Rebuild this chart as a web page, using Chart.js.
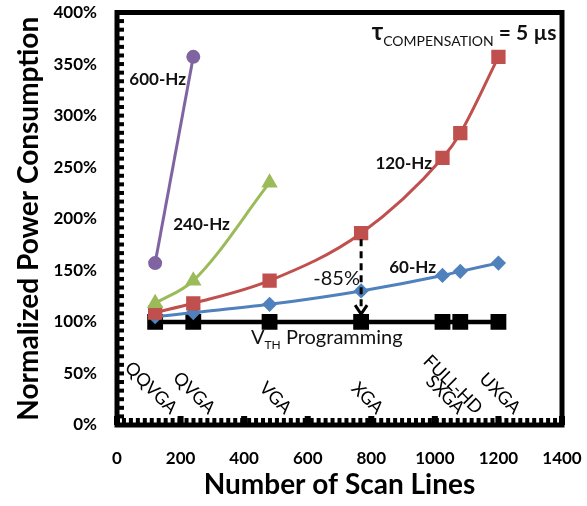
<!DOCTYPE html>
<html>
<head>
<meta charset="utf-8">
<script src="https://cdn.jsdelivr.net/npm/chart.js@4.4.1/dist/chart.umd.min.js"></script>
<style>
  html, body { margin: 0; padding: 0; background: #fff; }
  #wrap { width: 587px; height: 506px; }
</style>
</head>
<body>
<div id="wrap"><canvas id="powerChart" width="587" height="506"></canvas></div>
<script>
// Data
const scanLines = [120, 240, 480, 768, 1024, 1080, 1200];
const formats = ['QQVGA', 'QVGA', 'VGA', 'XGA', 'SXGA', 'FULL-HD', 'UXGA'];
const vthProgramming = [100, 100, 100, 100, 100, 100, 100];
const power60Hz = [105, 109, 117, 130, 145, 149, 157];
const power120Hz = [109, 118, 140, 186, 259, 283, 357];
const lines240Hz = [120, 240, 480];
const power240Hz = [118, 140, 235];
const lines600Hz = [120, 240];
const power600Hz = [157, 357];

const FONT = 'Lato, "Open Sans", sans-serif';

// text notes placed in data coordinates
const notes = [
  { text: '600-Hz', x: 128, y: 335 },
  { text: '240-Hz', x: 266, y: 194 },
  { text: '120-Hz', x: 902, y: 254 },
  { text: '60-Hz', x: 930, y: 153 },
];

function toPoints(xs, ys) {
  return xs.map((x, i) => ({ x: x, y: ys[i] }));
}

function drawParts(ctx, parts, cx, baseY) {
  let total = 0;
  parts.forEach(p => {
    ctx.font = p.font;
    p.w = ctx.measureText(p.text).width;
    total += p.w;
  });
  let x = cx - total / 2;
  ctx.textAlign = 'left';
  ctx.textBaseline = 'alphabetic';
  parts.forEach(p => {
    ctx.font = p.font;
    ctx.fillText(p.text, x, baseY + (p.dy || 0));
    x += p.w;
  });
}

// Frame, inner ticks, arrow and notes
const framePlugin = {
  id: 'frame',
  afterDraw(chart) {
    const ctx = chart.ctx;
    const a = chart.chartArea;
    const xs = chart.scales.x;
    const ys = chart.scales.y;
    ctx.save();
    ctx.fillStyle = '#000';
    ctx.strokeStyle = '#000';

    // minor ticks pointing inward
    for (let v = 0; v <= 400; v += 400 / 48) {
      const py = ys.getPixelForValue(v);
      ctx.fillRect(a.left, py - 2, 7, 4);
    }
    for (let v = 0; v <= 1400; v += 1400 / 64) {
      const px = xs.getPixelForValue(v);
      ctx.fillRect(px - 2, a.bottom - 7, 4, 7);
    }
    for (let v = 0; v <= 1400; v += 200) {
      const px = xs.getPixelForValue(v);
      ctx.fillRect(px - 3, a.bottom - 9, 6, 9);
    }

    // frame
    ctx.lineWidth = 5;
    ctx.strokeRect(a.left, a.top, a.right - a.left, a.bottom - a.top);

    // dashed arrow from 120-Hz XGA point down to V_TH line
    const ax = xs.getPixelForValue(768);
    const ay1 = ys.getPixelForValue(186) + 6;
    const ay2 = ys.getPixelForValue(107.5);
    ctx.lineWidth = 3;
    ctx.setLineDash([7, 5]);
    ctx.beginPath();
    ctx.moveTo(ax, ay1);
    ctx.lineTo(ax, ay2);
    ctx.stroke();
    ctx.setLineDash([]);
    ctx.beginPath();
    ctx.moveTo(ax - 6, ay2 - 9);
    ctx.lineTo(ax, ay2);
    ctx.lineTo(ax + 6, ay2 - 9);
    ctx.stroke();

    // series notes
    ctx.fillStyle = '#111';
    ctx.font = 'bold 17px ' + FONT;
    ctx.textAlign = 'center';
    ctx.textBaseline = 'middle';
    notes.forEach(n => {
      ctx.fillText(n.text, xs.getPixelForValue(n.x), ys.getPixelForValue(n.y));
    });

    ctx.font = '20px ' + FONT;
    ctx.fillText('-85%', xs.getPixelForValue(691), ys.getPixelForValue(142.5));

    // V_TH Programming
    drawParts(ctx, [
      { text: 'V', font: '20px ' + FONT },
      { text: 'TH', font: '12px ' + FONT, dy: 5 },
      { text: ' Programming', font: '20px ' + FONT }
    ], xs.getPixelForValue(660), ys.getPixelForValue(100) + 22);

    // tau compensation
    drawParts(ctx, [
      { text: 'τ', font: 'bold 24px ' + FONT },
      { text: 'COMPENSATION', font: '14px ' + FONT, dy: 6 },
      { text: ' = 5 µs', font: 'bold 21px ' + FONT }
    ], xs.getPixelForValue(1092), a.top + 27);

    // rotated format labels
    ctx.font = '18px ' + FONT;
    ctx.fillStyle = '#000';
    ctx.textAlign = 'right';
    ctx.textBaseline = 'middle';
    formats.forEach((f, i) => {
      const px = xs.getPixelForValue(scanLines[i]) + 19;
      const py = a.bottom - 14;
      ctx.save();
      ctx.translate(px, py);
      ctx.rotate(Math.PI / 4);
      ctx.fillText(f, 0, 0);
      ctx.restore();
    });

    ctx.restore();
  }
};

// invisible tick marks: push labels away from the frame
const hiddenTicks = {
  display: true,
  drawOnChartArea: false,
  drawTicks: true,
  color: 'rgba(0,0,0,0)'
};

new Chart(document.getElementById('powerChart'), {
  type: 'line',
  data: {
    datasets: [
      {
        label: '600-Hz',
        data: toPoints(lines600Hz, power600Hz),
        borderColor: '#8064A2',
        backgroundColor: '#8064A2',
        borderWidth: 3,
        pointStyle: 'circle',
        pointRadius: 5.5,
        tension: 0
      },
      {
        label: '240-Hz',
        data: toPoints(lines240Hz, power240Hz),
        borderColor: '#9BBB59',
        backgroundColor: '#9BBB59',
        borderWidth: 3,
        pointStyle: 'triangle',
        pointRadius: 6.5,
        cubicInterpolationMode: 'monotone'
      },
      {
        label: '120-Hz',
        data: toPoints(scanLines, power120Hz),
        borderColor: '#C0504D',
        backgroundColor: '#C0504D',
        borderWidth: 3,
        pointStyle: 'rect',
        pointRadius: 8,
        cubicInterpolationMode: 'monotone'
      },
      {
        label: '60-Hz',
        data: toPoints(scanLines, power60Hz),
        borderColor: '#4F81BD',
        backgroundColor: '#4F81BD',
        borderWidth: 3,
        pointStyle: 'rectRot',
        pointRadius: 5.5,
        cubicInterpolationMode: 'monotone'
      },
      {
        label: 'VTH Programming',
        data: toPoints(scanLines, vthProgramming),
        borderColor: '#000',
        backgroundColor: '#000',
        borderWidth: 4.5,
        pointStyle: 'rect',
        pointRadius: 8,
        tension: 0
      }
    ]
  },
  options: {
    responsive: false,
    animation: false,
    devicePixelRatio: 1,
    layout: { padding: { left: 6, right: 25, top: 12, bottom: 4 } },
    plugins: {
      legend: { display: false },
      tooltip: { enabled: false }
    },
    scales: {
      x: {
        type: 'linear',
        min: 0,
        max: 1400,
        ticks: {
          stepSize: 200,
          color: '#000',
          padding: 4,
          maxRotation: 0,
          font: { family: FONT, size: 17, weight: 'bold' },
          callback: function(value) { return String(value); }
        },
        grid: Object.assign({ tickLength: 19 }, hiddenTicks),
        border: { display: false },
        title: {
          display: true,
          text: 'Number of Scan Lines',
          color: '#000',
          padding: { top: 0, bottom: 0 },
          font: { family: FONT, size: 28, weight: 'bold' }
        },
        afterFit: function(scale) { scale.height = 77; }
      },
      y: {
        min: 0,
        max: 400,
        ticks: {
          stepSize: 50,
          color: '#000',
          padding: 2,
          font: { family: FONT, size: 17, weight: 'bold' },
          callback: function(value) { return value + '%'; }
        },
        grid: Object.assign({ tickLength: 18 }, hiddenTicks),
        border: { display: false },
        title: {
          display: true,
          text: 'Normalized Power Consumption',
          color: '#000',
          padding: { top: 6, bottom: 0 },
          font: { family: FONT, size: 28, weight: 'bold' }
        },
        afterFit: function(scale) { scale.width = 111; }
      }
    }
  },
  plugins: [framePlugin]
});
</script>
</body>
</html>
